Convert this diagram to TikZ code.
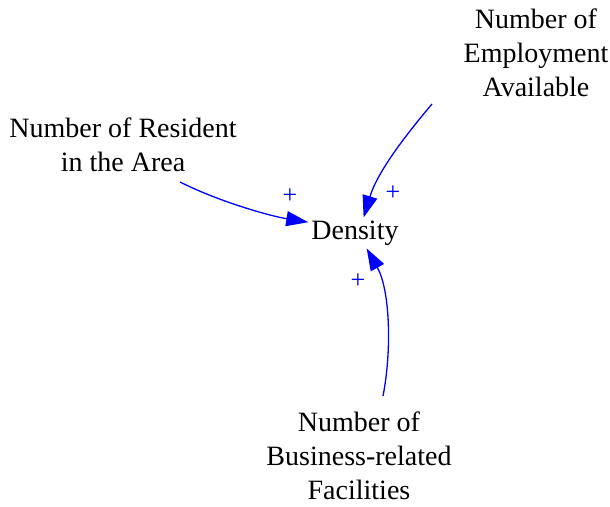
\documentclass[tikz,border=0pt]{standalone}
\usepackage{fontspec}
\setmainfont{Liberation Serif}
\usetikzlibrary{arrows.meta}
\begin{document}
\begin{tikzpicture}[x=1pt,y=-1pt,
  var/.style={font=\fontsize{28}{34}\selectfont, align=center, inner sep=0pt, text=black},
  link/.style={draw=blue, line width=1.3pt, -{Triangle[length=22pt,width=15pt]}},
  pol/.style={text=blue, font=\fontsize{26}{26}\selectfont, inner sep=0pt}]
  \useasboundingbox (0,0) rectangle (610,506);

  % variables
  \node[var] (emp) at (536,53) {Number of\\Employment\\Available};
  \node[var] (res) at (123,145) {Number of Resident\\in the Area};
  \node[var] (bus) at (359,456) {Number of\\Business-related\\Facilities};
  \node[var, inner sep=3pt] (den) at (355,233) {Density};

  % where the links leave their source variables
  \coordinate (resOut) at (180,182);
  \coordinate (empOut) at (432,104);
  \coordinate (busOut) at (383,396);

  % causal links
  \draw[link] (resOut) .. controls (220,202) and (270,216) .. (den.167);
  \draw[link] (empOut) .. controls (410,130) and (378,170) .. (den.61);
  \draw[link] (busOut) .. controls (392,350) and (390,290) .. (den.-53);

  % link polarities
  \node[pol] (p1) at (290,196) {+};
  \node[pol] (p2) at (393,193) {+};
  \node[pol] (p3) at (358,281) {+};
\end{tikzpicture}
\end{document}
